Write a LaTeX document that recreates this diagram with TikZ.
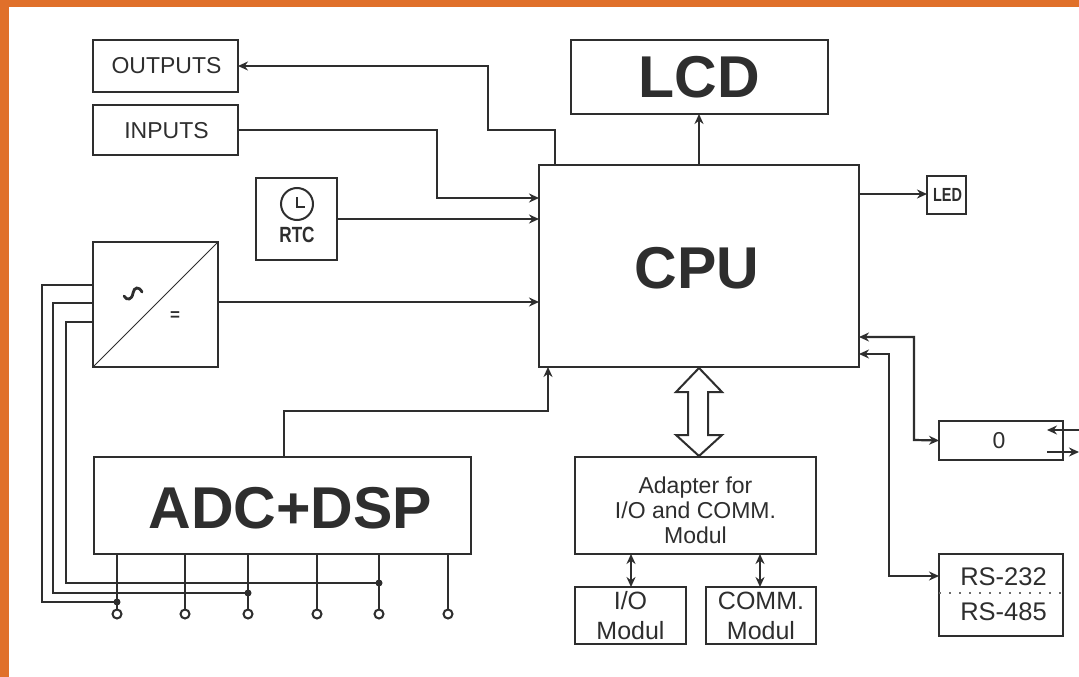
\documentclass[tikz,border=0pt]{standalone}
\usepackage{fontspec}
\setmainfont{Liberation Sans}
\usetikzlibrary{arrows.meta,calc}
\definecolor{ink}{HTML}{2E2E2E}
\definecolor{frame}{HTML}{E0702A}
\tikzset{
  box/.style={draw=ink,line width=2.4pt,fill=white,inner sep=0pt,outer sep=0pt,text=ink,align=center,anchor=north west},
  wire/.style={draw=ink,line width=2.2pt},
  thin wire/.style={draw=ink,line width=2pt},
  arr/.style={wire,-{Stealth[length=10pt,width=9pt]}},
  darr/.style={wire,{Stealth[length=10pt,width=9pt]}-{Stealth[length=10pt,width=9pt]}},
  lbl/.style={font=\fontsize{23}{25}\selectfont,text=ink,align=center,inner sep=0pt},
  big/.style={lbl,font=\fontsize{59}{60}\selectfont\bfseries},
  term/.style={circle,draw=ink,line width=2pt,fill=white,minimum size=9pt,inner sep=0pt,outer sep=0pt},
  jdot/.style={circle,fill=ink,minimum size=7pt,inner sep=0pt,outer sep=0pt}
}
\begin{document}
\begin{tikzpicture}[x=1pt,y=-1pt]
\useasboundingbox (0,0) rectangle (1079,677);
\fill[white] (0,0) rectangle (1079,677);
\fill[frame] (0,0) rectangle (1079,7);
\fill[frame] (0,0) rectangle (9,677);

\node[box,minimum width=145pt,minimum height=52pt] (outputs) at (93,40) {};
\node[lbl] (outputsT) at (166.5,66) {OUTPUTS};
\node[box,minimum width=145pt,minimum height=50pt] (inputs) at (93,105) {};
\node[lbl] (inputsT) at (166.5,130.5) {INPUTS};
\node[box,minimum width=257pt,minimum height=74pt] (lcd) at (571,40) {};
\node[big] (lcdT) at (699.5,77) {LCD};
\node[box,minimum width=320pt,minimum height=202pt] (cpu) at (539,165) {};
\node[big] (cpuT) at (697,268) {CPU};
\node[box,minimum width=39pt,minimum height=38pt] (led) at (927,176) {};
\node[lbl,font=\fontsize{19}{19}\selectfont\bfseries,xscale=.76] (ledT) at (947.5,195) {LED};
\node[box,minimum width=81pt,minimum height=82pt] (rtc) at (256,178) {};
\node[lbl,font=\fontsize{22}{22}\selectfont\bfseries,xscale=.78] (rtcT) at (297,235) {RTC};
\node[circle,draw=ink,line width=2pt,minimum size=32pt,inner sep=0pt] (clock) at (297,204) {};
\draw[ink,line width=1.3pt] (clock.center)++(0,-7) -- ++(0,10) -- ++(8,0);
\node[box,minimum width=125pt,minimum height=125pt] (conv) at (93,242) {};
\draw[ink,line width=1pt] (conv.south west) -- (conv.north east);
\draw[ink,line width=2.8pt,line cap=round] (124,296) .. controls (127,301) and (132,300) .. (133,293) .. controls (134,287) and (139,286) .. (142,292);
\node[lbl,font=\fontsize{17}{17}\selectfont\bfseries] (dcT) at (175,316) {=};
\node[box,minimum width=377pt,minimum height=97pt] (adc) at (94,457) {};
\node[big] (adcT) at (290.5,508) {ADC+DSP};
\node[box,minimum width=241pt,minimum height=97pt] (adapter) at (575,457) {};
\node[lbl] (adapterT) at (695.5,510) {Adapter for\\I/O and COMM.\\Modul};
\node[box,minimum width=111pt,minimum height=57pt] (io) at (575,587) {};
\node[lbl,font=\fontsize{25}{30}\selectfont] (ioT) at (630.5,616) {I/O\\Modul};
\node[box,minimum width=110pt,minimum height=57pt] (comm) at (706,587) {};
\node[lbl,font=\fontsize{25}{30}\selectfont] (commT) at (761,616) {COMM.\\Modul};
\node[box,minimum width=124pt,minimum height=39pt] (zero) at (939,421) {};
\node[lbl] (zeroT) at (999,441) {0};
\node[box,minimum width=124pt,minimum height=82pt] (rs) at (939,554) {};
\node[lbl,font=\fontsize{25.5}{26}\selectfont] (rsA) at (1003.5,577) {RS-232};
\node[lbl,font=\fontsize{25.5}{26}\selectfont] (rsB) at (1003.5,612) {RS-485};
\draw[ink!70,line width=1.8pt,dash pattern=on 2pt off 8pt] (rs.west |- 0,593) -- (rs.east |- 0,593);

% connectors
\draw[arr] (cpu.north west -| 555,0) -- (555,130) -- (488,130) -- (488,66) -- (outputs.east);
\draw[arr] (inputs.east) -- (437,130) -- (437,198) -- (cpu.west |- 0,198);
\draw[arr] (rtc.east) -- (cpu.west |- rtc.east);
\draw[arr] (conv.east |- 0,302) -- (cpu.west |- 0,302);
\draw[arr] (adc.north -| 284,0) -- (284,411) -- (548,411) -- (cpu.south -| 548,0);
\draw[arr] (cpu.north -| 699,0) -- (lcd.south -| 699,0);
\draw[arr] (cpu.east |- 0,194) -- (led.west |- 0,194);
\draw[darr] (cpu.east |- 0,337) -- (914,337) -- (914,440) -- (zero.west);
\draw[darr] (cpu.east |- 0,354) -- (889,354) -- (889,576) -- (rs.west |- 0,576);
\coordinate (zi) at (1079,430);
\coordinate (zo) at (1079,452);
\draw[arr] (zi) -- (1047,430);
\draw[arr] (1047,452) -- (zo);
\draw[darr] (io.north -| 631,0) -- (adapter.south -| 631,0);
\draw[darr] (comm.north -| 760,0) -- (adapter.south -| 760,0);

% hollow double arrow CPU <-> adapter
\draw[ink,line width=2pt,fill=white,line join=miter]
  (699,368) -- (722,392) -- (708,392) -- (708,435) -- (722,435) -- (699,456)
  -- (676,435) -- (688,435) -- (688,392) -- (676,392) -- cycle;

% terminals
\foreach \n/\x in {1/117,2/185,3/248,4/317,5/379,6/448}{
  \node[term] (t\n) at (\x,614) {};
  \draw[thin wire] (adc.south -| t\n) -- (t\n);
}
\node[jdot] (j1) at (117,602) {};
\node[jdot] (j2) at (248,593) {};
\node[jdot] (j3) at (379,583) {};
\draw[thin wire] (conv.west |- 0,285) -- (42,285) -- (42,602) -- (j1);
\draw[thin wire] (conv.west |- 0,303) -- (53,303) -- (53,593) -- (j2);
\draw[thin wire] (conv.west |- 0,322) -- (66,322) -- (66,583) -- (j3);
\end{tikzpicture}
\end{document}
